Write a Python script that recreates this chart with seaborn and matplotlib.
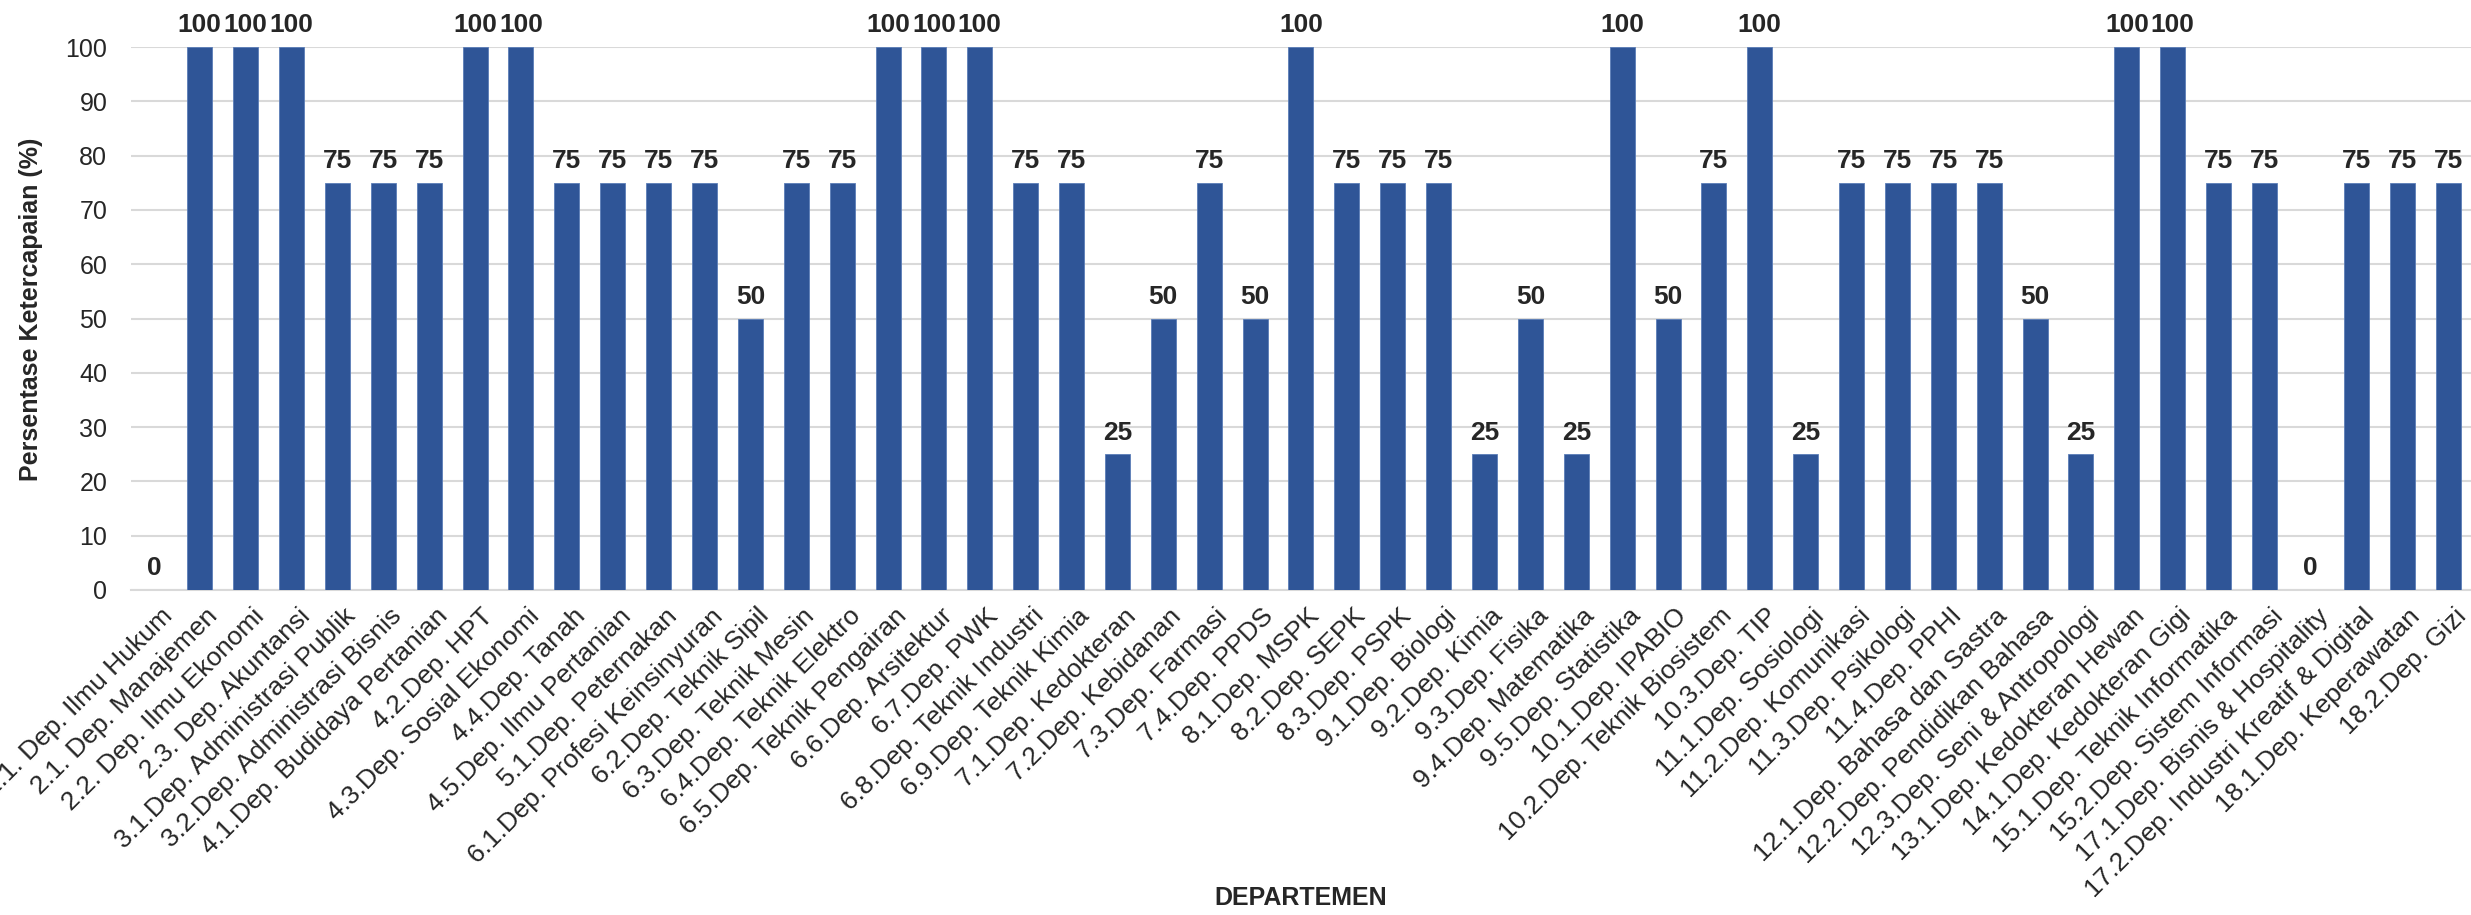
import pandas as pd
import matplotlib
matplotlib.use('Agg')
import matplotlib.pyplot as plt
import matplotlib.transforms as mtransforms
import seaborn as sns

departemen = [
    '1.1. Dep. Ilmu Hukum', '2.1. Dep. Manajemen', '2.2. Dep. Ilmu Ekonomi', '2.3. Dep. Akuntansi',
    '3.1.Dep. Administrasi Publik', '3.2.Dep. Administrasi Bisnis', '4.1.Dep. Budidaya Pertanian',
    '4.2.Dep. HPT', '4.3.Dep. Sosial Ekonomi', '4.4.Dep. Tanah', '4.5.Dep. Ilmu Pertanian',
    '5.1.Dep. Peternakan', '6.1.Dep. Profesi Keinsinyuran', '6.2.Dep. Teknik Sipil',
    '6.3.Dep. Teknik Mesin', '6.4.Dep. Teknik Elektro', '6.5.Dep. Teknik Pengairan',
    '6.6.Dep. Arsitektur', '6.7.Dep. PWK', '6.8.Dep. Teknik Industri', '6.9.Dep. Teknik Kimia',
    '7.1.Dep. Kedokteran', '7.2.Dep. Kebidanan', '7.3.Dep. Farmasi', '7.4.Dep. PPDS',
    '8.1.Dep. MSPK', '8.2.Dep. SEPK', '8.3.Dep. PSPK', '9.1.Dep. Biologi', '9.2.Dep. Kimia',
    '9.3.Dep. Fisika', '9.4.Dep. Matematika', '9.5.Dep. Statistika', '10.1.Dep. IPABIO',
    '10.2.Dep. Teknik Biosistem', '10.3.Dep. TIP', '11.1.Dep. Sosiologi', '11.2.Dep. Komunikasi',
    '11.3.Dep. Psikologi', '11.4.Dep. PPHI', '12.1.Dep. Bahasa dan Sastra',
    '12.2.Dep. Pendidikan Bahasa', '12.3.Dep. Seni & Antropologi', '13.1.Dep. Kedokteran Hewan',
    '14.1.Dep. Kedokteran Gigi', '15.1.Dep. Teknik Informatika', '15.2.Dep. Sistem Informasi',
    '17.1.Dep. Bisnis & Hospitality', '17.2.Dep. Industri Kreatif & Digital',
    '18.1.Dep. Keperawatan', '18.2.Dep. Gizi',
]
persentase = [
    0, 100, 100, 100, 75, 75, 75, 100, 100, 75, 75, 75, 75, 50, 75, 75, 100, 100, 100, 75, 75,
    25, 50, 75, 50, 100, 75, 75, 75, 25, 50, 25, 100, 50, 75, 100, 25, 75, 75, 75, 75, 50, 25,
    100, 100, 75, 75, 0, 75, 75, 75,
]
yticks = list(range(0, 101, 10))

df = pd.DataFrame({'Departemen': departemen, 'Persentase': persentase})

sns.set_style('white')
plt.rcParams['font.family'] = ['Liberation Sans', 'DejaVu Sans']

fig = plt.figure(figsize=(24.71, 9.15), dpi=100)
ax = fig.add_axes([0.053, 0.3552, 0.947, 0.5934])

sns.barplot(data=df, x='Departemen', y='Persentase', color='#2F5597', width=0.545,
            saturation=1, edgecolor='#5b7db8', linewidth=0.6, ax=ax, zorder=3)

ax.bar_label(ax.containers[0], labels=[str(v) for v in persentase], padding=7,
             fontsize=19, fontweight='bold')

ax.set_ylim(0, 100)
ax.set_xlim(-0.5, len(departemen) - 0.5)
ax.set_yticks(yticks)
ax.tick_params(axis='y', labelsize=18, length=0, pad=17)
ax.tick_params(axis='x', labelsize=19, length=0, pad=10)
shift = mtransforms.ScaledTranslation(0.06, 0, fig.dpi_scale_trans)
for lbl in ax.get_xticklabels():
    lbl.set_rotation(45)
    lbl.set_ha('right')
    lbl.set_va('top')
    lbl.set_rotation_mode('anchor')
    lbl.set_transform(lbl.get_transform() + shift)

ax.grid(axis='y', color='#d9d9d9', linewidth=1.5, zorder=0)
ax.grid(axis='x', visible=False)
for s in ['top', 'right', 'left']:
    ax.spines[s].set_visible(False)
ax.spines['bottom'].set_color('#d9d9d9')
ax.spines['bottom'].set_linewidth(1.5)

ax.set_ylabel('Persentase Ketercapaian (%)', fontsize=18, fontweight='bold')
ax.yaxis.set_label_coords(-0.0376, 0.517)
ax.set_xlabel('DEPARTEMEN', fontsize=18, fontweight='bold')
ax.xaxis.set_label_coords(0.5, -0.545)

fig.savefig('out.png', dpi=100)
